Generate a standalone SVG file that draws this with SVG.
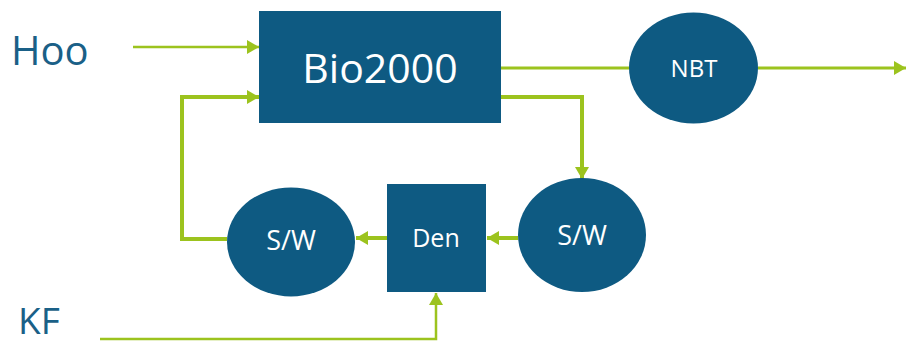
<svg xmlns="http://www.w3.org/2000/svg" width="907" height="345" viewBox="0 0 907 345">
<style>
.node{fill:#0e5a82}
.lbl{fill:#ffffff;font-family:"Open Sans","Noto Sans",sans-serif;text-anchor:middle}
.ext{fill:#1a6087;font-family:"Open Sans","Noto Sans",sans-serif}
.c{fill:none;stroke:#9cc31e;stroke-linejoin:miter}
</style>
<defs>
<marker id="ah" markerUnits="userSpaceOnUse" markerWidth="14" markerHeight="14" refX="12" refY="7" orient="auto">
<path d="M0,0 L12,7 L0,14 Z" fill="#9cc31e"/>
</marker>
</defs>
<rect width="907" height="345" fill="#ffffff"/>
<text class="ext" x="11" y="65" font-size="40">Hoo</text>
<text class="ext" x="18" y="334" font-size="37">KF</text>
<g id="connectors">
<path class="c" stroke-width="2.5" d="M133,47 L259,47" marker-end="url(#ah)"/>
<path class="c" stroke-width="3" d="M501,68 L629,68"/>
<path class="c" stroke-width="3" d="M758,68 L906,68" marker-end="url(#ah)"/>
<path class="c" stroke-width="4" d="M501,97 L582,97 L582,179" marker-end="url(#ah)"/>
<path class="c" stroke-width="4" d="M518,238 L487,238" marker-end="url(#ah)"/>
<path class="c" stroke-width="4" d="M387,238 L356,238" marker-end="url(#ah)"/>
<path class="c" stroke-width="4" d="M227,239 L182,239 L182,97 L259,97" marker-end="url(#ah)"/>
<path class="c" stroke-width="2.5" d="M100,339 L436,339 L436,293" marker-end="url(#ah)"/>
</g>
<g id="bio2000">
<rect class="node" x="259" y="11" width="242" height="112"/>
<text class="lbl" x="380" y="83" font-size="41">Bio2000</text>
</g>
<g id="nbt">
<ellipse class="node" cx="693.5" cy="68" rx="64.5" ry="55.5"/>
<text class="lbl" x="694" y="77" font-size="24">NBT</text>
</g>
<g id="sw-right">
<ellipse class="node" cx="582" cy="235" rx="64" ry="57"/>
<text class="lbl" x="582" y="245" font-size="27">S/W</text>
</g>
<g id="den">
<rect class="node" x="387" y="184" width="99" height="108"/>
<text class="lbl" x="436" y="247" font-size="25">Den</text>
</g>
<g id="sw-left">
<ellipse class="node" cx="291" cy="242" rx="64" ry="54.5"/>
<text class="lbl" x="291" y="250" font-size="27">S/W</text>
</g>
</svg>
